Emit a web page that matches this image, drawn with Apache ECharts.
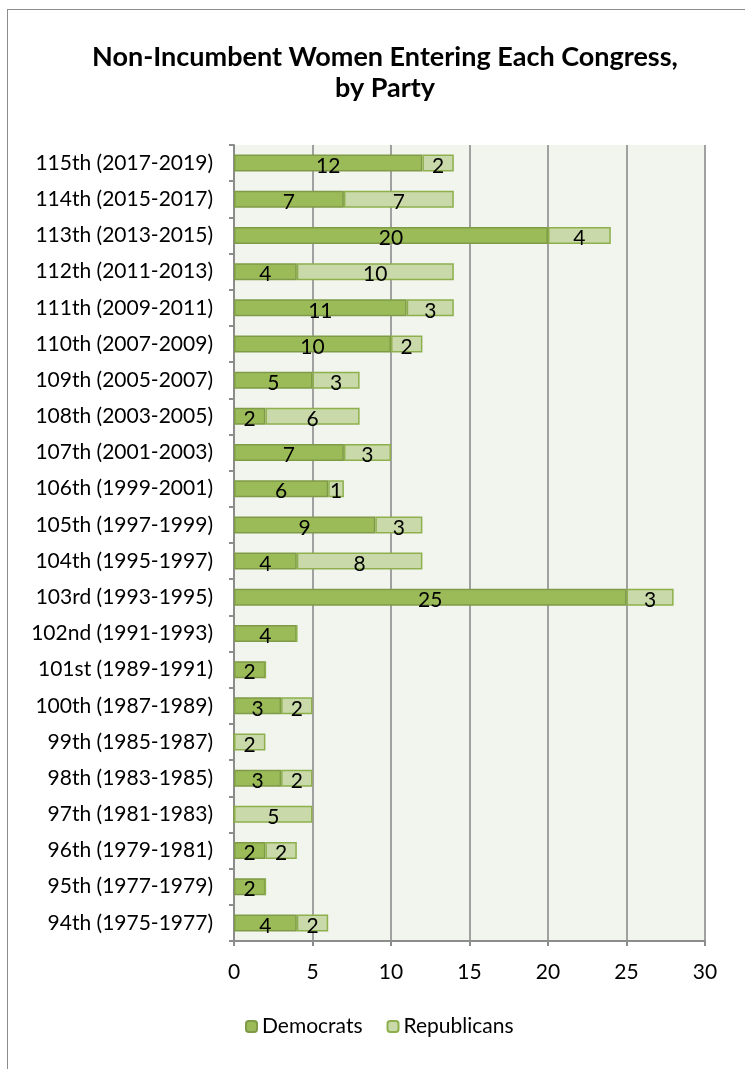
<!DOCTYPE html>
<html>
<head>
<meta charset="utf-8">
<script src="https://cdn.jsdelivr.net/npm/echarts@6/dist/echarts.min.js"></script>
<style>
  html, body { margin: 0; padding: 0; background: #fff; }
  .frame { position: absolute; left: 7px; top: 9px; width: 800px; height: 1100px; border: 1px solid #8c8c8c; box-sizing: border-box; }
  #chart { position: absolute; left: 0; top: 0; width: 745px; height: 1069px; }
</style>
</head>
<body>
<div class="frame"></div>
<div id="chart"></div>
<script>
// bottom (94th) to top (115th)
const congresses = [
  '94th (1975-1977)', '95th (1977-1979)', '96th (1979-1981)', '97th (1981-1983)',
  '98th (1983-1985)', '99th (1985-1987)', '100th (1987-1989)', '101st (1989-1991)',
  '102nd (1991-1993)', '103rd (1993-1995)', '104th (1995-1997)', '105th (1997-1999)',
  '106th (1999-2001)', '107th (2001-2003)', '108th (2003-2005)', '109th (2005-2007)',
  '110th (2007-2009)', '111th (2009-2011)', '112th (2011-2013)', '113th (2013-2015)',
  '114th (2015-2017)', '115th (2017-2019)'
];
const democrats   = [4, 2, 2, 0, 3, 0, 3, 2, 4, 25, 4, 9, 6, 7, 2, 5, 10, 11, 4, 20, 7, 12];
const republicans = [2, 0, 2, 5, 2, 2, 2, 0, 0, 3, 8, 3, 1, 3, 6, 3, 2, 3, 10, 4, 7, 2];
const xTicks = [0, 5, 10, 15, 20, 25, 30];

const font = 'Lato, "Open Sans", sans-serif';
const chart = echarts.init(document.getElementById('chart'));

const barLabel = {
  show: true,
  position: 'inside',
  color: '#000',
  fontSize: 21,
  fontFamily: font,
  offset: [0, 3],
  formatter: p => (p.value ? p.value : '')
};

chart.setOption({
  animation: false,
  title: {
    text: 'Non-Incumbent Women Entering Each Congress,\nby Party',
    left: 380,
    top: 37,
    textAlign: 'center',
    textStyle: { fontFamily: font, fontSize: 27, fontWeight: 'bold', color: '#000', lineHeight: 31 }
  },
  legend: {
    bottom: 27,
    left: 240,
    itemWidth: 11,
    itemHeight: 11,
    itemGap: 24,
    textStyle: { fontFamily: font, fontSize: 21, color: '#000' },
    data: ['Democrats', 'Republicans']
  },
  grid: {
    left: 234, right: 40, top: 145, bottom: 128,
    show: true, backgroundColor: '#f2f5ee', borderWidth: 0
  },
  xAxis: {
    type: 'value',
    min: xTicks[0],
    max: xTicks[xTicks.length - 1],
    interval: 5,
    axisLine: { show: true, lineStyle: { color: '#8c8c8c', width: 2 } },
    axisTick: { show: true, length: 5, lineStyle: { color: '#8c8c8c', width: 2 } },
    splitLine: { show: true, lineStyle: { color: '#a0a0a0', width: 2 } },
    axisLabel: { color: '#000', fontSize: 21, fontFamily: font, margin: 21 }
  },
  yAxis: {
    type: 'category',
    data: congresses,
    axisLine: { show: true, lineStyle: { color: '#8c8c8c', width: 2 } },
    axisTick: { show: true, inside: false, length: 5, lineStyle: { color: '#8c8c8c', width: 2 } },
    axisLabel: { color: '#000', fontSize: 21, fontFamily: font, margin: 21 }
  },
  series: [
    {
      name: 'Democrats',
      type: 'bar',
      stack: 'total',
      data: democrats,
      barWidth: 17,
      itemStyle: { color: '#9bbb59', borderColor: '#7f9b47', borderWidth: 1.5 },
      label: barLabel
    },
    {
      name: 'Republicans',
      type: 'bar',
      stack: 'total',
      data: republicans,
      barWidth: 17,
      itemStyle: { color: '#c9d9a9', borderColor: '#8db04c', borderWidth: 1.5 },
      label: barLabel
    }
  ]
});
</script>
</body>
</html>
